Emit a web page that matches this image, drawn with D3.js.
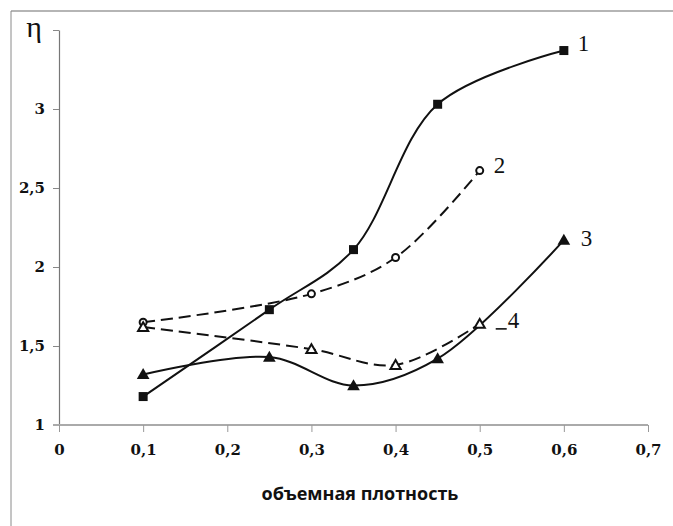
<!DOCTYPE html>
<html>
<head>
<meta charset="utf-8">
<script src="https://cdn.jsdelivr.net/npm/d3@7"></script>
<style>
  html, body { margin: 0; padding: 0; background: #fff; }
  svg { display: block; }
</style>
</head>
<body>
<svg id="chart" width="673" height="526"></svg>
<script>
'use strict';

// объемная плотность (x) and η (y) for each curve
var x1 = [0.1, 0.25, 0.35, 0.45, 0.6];
var y1 = [1.18, 1.73, 2.11, 3.03, 3.37];
var x2 = [0.1, 0.3, 0.4, 0.5];
var y2 = [1.65, 1.83, 2.06, 2.61];
var x3 = [0.1, 0.25, 0.35, 0.45, 0.6];
var y3 = [1.32, 1.43, 1.25, 1.42, 2.17];
var x4 = [0.1, 0.3, 0.4, 0.5];
var y4 = [1.62, 1.48, 1.38, 1.64];

var xTicks = [0, 0.1, 0.2, 0.3, 0.4, 0.5, 0.6, 0.7];
var yTicks = [1, 1.5, 2, 2.5, 3, 3.5];
var seriesNames = ['1', '2', '3', '4'];

var svg = d3.select('#chart');

var x = d3.scaleLinear().domain([0, 0.7]).range([59, 648]);
var y = d3.scaleLinear().domain([1, 3.5]).range([425, 30]);

function fmt(v) {
    return String(v).replace('.', ',');
}

// frame of the scanned figure
svg.append('line')
    .attr('x1', 11).attr('y1', 11).attr('x2', 673).attr('y2', 11)
    .attr('stroke', '#b5b5b5').attr('stroke-width', 2);
svg.append('line')
    .attr('x1', 11).attr('y1', 11).attr('x2', 11).attr('y2', 526)
    .attr('stroke', '#8a8a8a').attr('stroke-width', 1);

// y axis
var yAxis = svg.append('g')
    .attr('transform', 'translate(' + x(0) + ',0)')
    .call(d3.axisLeft(y).tickValues(yTicks).tickSize(6).tickSizeOuter(0)
        .tickFormat(function(d) { return d === 3.5 ? '' : fmt(d); }));
yAxis.select('.domain').attr('stroke', '#777').attr('stroke-width', 1.2);
yAxis.selectAll('.tick line').attr('stroke', '#888');
yAxis.selectAll('.tick text')
    .attr('x', -14)
    .style('font-family', '"DejaVu Serif", serif')
    .style('font-weight', 'bold')
    .style('font-size', '15px')
    .attr('fill', '#111');

// x axis
var xAxis = svg.append('g')
    .attr('transform', 'translate(0,' + y(1) + ')')
    .call(d3.axisBottom(x).tickValues(xTicks).tickSize(7).tickSizeOuter(0).tickFormat(fmt));
xAxis.select('.domain').attr('stroke', '#aaa').attr('stroke-width', 2.2)
    .attr('d', 'M' + (x(0) - 6) + ',0H' + x(0.7));
xAxis.selectAll('.tick line').attr('stroke', '#999');
xAxis.selectAll('.tick text')
    .attr('y', 19)
    .style('font-family', '"DejaVu Serif", serif')
    .style('font-weight', 'bold')
    .style('font-size', '15px')
    .attr('fill', '#111');

svg.append('text')
    .attr('x', 360).attr('y', 500)
    .attr('text-anchor', 'middle')
    .style('font-family', '"Open Sans", sans-serif')
    .style('font-weight', 'bold')
    .style('font-size', '18px')
    .attr('fill', '#111')
    .text('объемная плотность');

svg.append('text')
    .attr('x', 34).attr('y', 37)
    .attr('text-anchor', 'middle')
    .style('font-family', '"Liberation Serif", serif')
    .style('font-size', '30px')
    .attr('fill', '#111')
    .text('η');

var line = d3.line()
    .x(function(d) { return x(d[0]); })
    .y(function(d) { return y(d[1]); })
    .curve(d3.curveCatmullRom.alpha(0.5));

function pts(xs, ys) {
    return xs.map(function(v, i) { return [v, ys[i]]; });
}

var series = [
    { data: pts(x1, y1), dash: null, marker: 'square' },
    { data: pts(x2, y2), dash: '12,6', marker: 'circle' },
    { data: pts(x3, y3), dash: null, marker: 'triangle' },
    { data: pts(x4, y4), dash: '12,6', marker: 'opentriangle' }
];

series.forEach(function(s) {
    svg.append('path')
        .datum(s.data)
        .attr('d', line)
        .attr('fill', 'none')
        .attr('stroke', '#111')
        .attr('stroke-width', 2)
        .attr('stroke-dasharray', s.dash);
});

series.forEach(function(s) {
    var g = svg.append('g');
    s.data.forEach(function(d) {
        var cx = x(d[0]), cy = y(d[1]);
        if (s.marker === 'square') {
            g.append('rect').attr('x', cx - 4.5).attr('y', cy - 4.5)
                .attr('width', 9).attr('height', 9).attr('fill', '#111');
        } else if (s.marker === 'circle') {
            g.append('circle').attr('cx', cx).attr('cy', cy).attr('r', 3.5)
                .attr('fill', '#fff').attr('stroke', '#111').attr('stroke-width', 2);
        } else if (s.marker === 'triangle') {
            g.append('path').attr('d', d3.symbol(d3.symbolTriangle, 70)())
                .attr('transform', 'translate(' + cx + ',' + (cy + 1) + ')')
                .attr('fill', '#111');
        } else {
            g.append('path').attr('d', d3.symbol(d3.symbolTriangle, 45)())
                .attr('transform', 'translate(' + cx + ',' + (cy + 1) + ')')
                .attr('fill', '#fff').attr('stroke', '#111').attr('stroke-width', 2);
        }
    });
});

// curve numbers beside the last point of each series
var labelOffsets = [[14, 0], [14, 2], [17, 6], [28, 4]];
series.forEach(function(s, i) {
    var last = s.data[s.data.length - 1];
    svg.append('text')
        .attr('x', x(last[0]) + labelOffsets[i][0])
        .attr('y', y(last[1]) + labelOffsets[i][1])
        .style('font-family', '"Liberation Serif", serif')
        .style('font-size', '23px')
        .attr('fill', '#111')
        .text(seriesNames[i]);
});
// short dash before the "4"
svg.append('line')
    .attr('x1', x(x4[x4.length - 1]) + 16).attr('x2', x(x4[x4.length - 1]) + 27)
    .attr('y1', y(y4[y4.length - 1]) + 5).attr('y2', y(y4[y4.length - 1]) + 5)
    .attr('stroke', '#111').attr('stroke-width', 1.6);
</script>
</body>
</html>
